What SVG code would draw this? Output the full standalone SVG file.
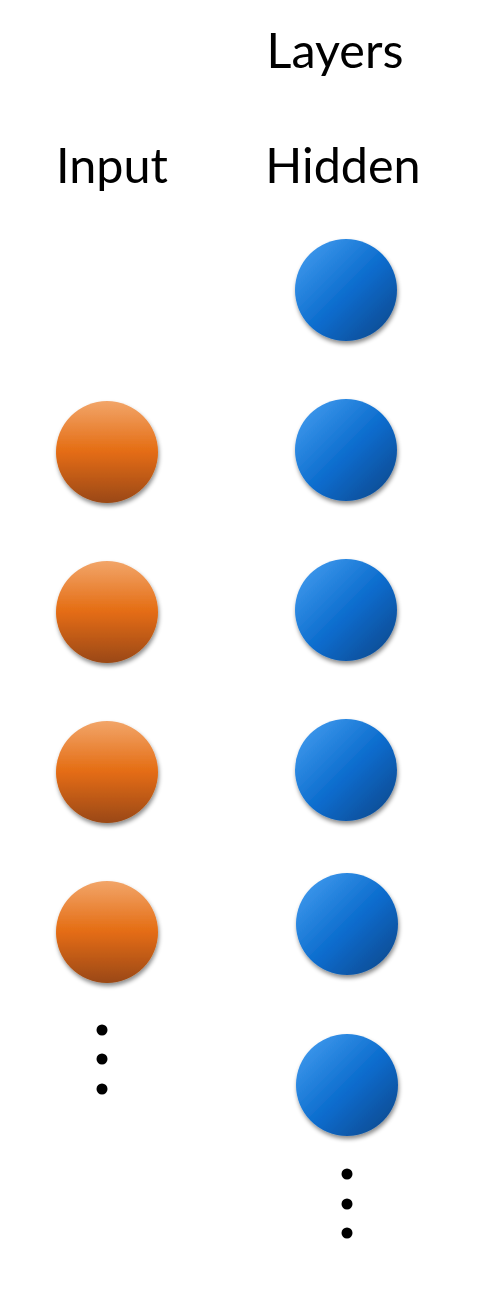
<svg xmlns="http://www.w3.org/2000/svg" width="483" height="1300" viewBox="0 0 483 1300">
<defs>
<linearGradient id="gOrange" x1="0" y1="0" x2="0" y2="1">
<stop offset="0" stop-color="#f2a569"/>
<stop offset="0.5" stop-color="#e46c12"/>
<stop offset="1" stop-color="#9a4812"/>
</linearGradient>
<linearGradient id="gBlue" x1="0.1" y1="0.1" x2="0.9" y2="0.9">
<stop offset="0" stop-color="#3d97ec"/>
<stop offset="0.55" stop-color="#0a6bcc"/>
<stop offset="1" stop-color="#0a4c94"/>
</linearGradient>
<filter id="shadow" x="-30%" y="-30%" width="160%" height="170%">
<feDropShadow dx="1" dy="3" stdDeviation="2" flood-color="#000" flood-opacity="0.45"/>
</filter>
</defs>
<style>
.lbl{font-family:"Lato","Open Sans","Liberation Sans",sans-serif;font-size:48.5px;fill:#000;}
.in{fill:url(#gOrange);filter:url(#shadow);}
.hid{fill:url(#gBlue);filter:url(#shadow);}
.dot{fill:#000;}
</style>
<rect width="483" height="1300" fill="#fff"/>
<g id="labels">
<text class="lbl" x="335" y="68" text-anchor="middle">Layers</text>
<text class="lbl" x="112" y="183" text-anchor="middle">Input</text>
<text class="lbl" x="343" y="183" text-anchor="middle">Hidden</text>
</g>
<g id="connectors"></g>
<g id="input-layer">
<circle id="in1" class="in" cx="107" cy="452" r="51"/>
<circle id="in2" class="in" cx="107" cy="612" r="51"/>
<circle id="in3" class="in" cx="107" cy="772" r="51"/>
<circle id="in4" class="in" cx="107" cy="932" r="51"/>
<g id="in-ellipsis">
<circle class="dot" cx="102" cy="1030" r="5.5"/>
<circle class="dot" cx="102" cy="1059" r="5.5"/>
<circle class="dot" cx="102" cy="1089" r="5.5"/>
</g>
</g>
<g id="hidden-layer">
<circle id="h1" class="hid" cx="346" cy="290" r="51"/>
<circle id="h2" class="hid" cx="346" cy="450" r="51"/>
<circle id="h3" class="hid" cx="346" cy="610" r="51"/>
<circle id="h4" class="hid" cx="346" cy="770" r="51"/>
<circle id="h5" class="hid" cx="347" cy="924" r="51"/>
<circle id="h6" class="hid" cx="347" cy="1085" r="51"/>
<g id="hid-ellipsis">
<circle class="dot" cx="347" cy="1174" r="5.5"/>
<circle class="dot" cx="347" cy="1204" r="5.5"/>
<circle class="dot" cx="347" cy="1233" r="5.5"/>
</g>
</g>
</svg>
